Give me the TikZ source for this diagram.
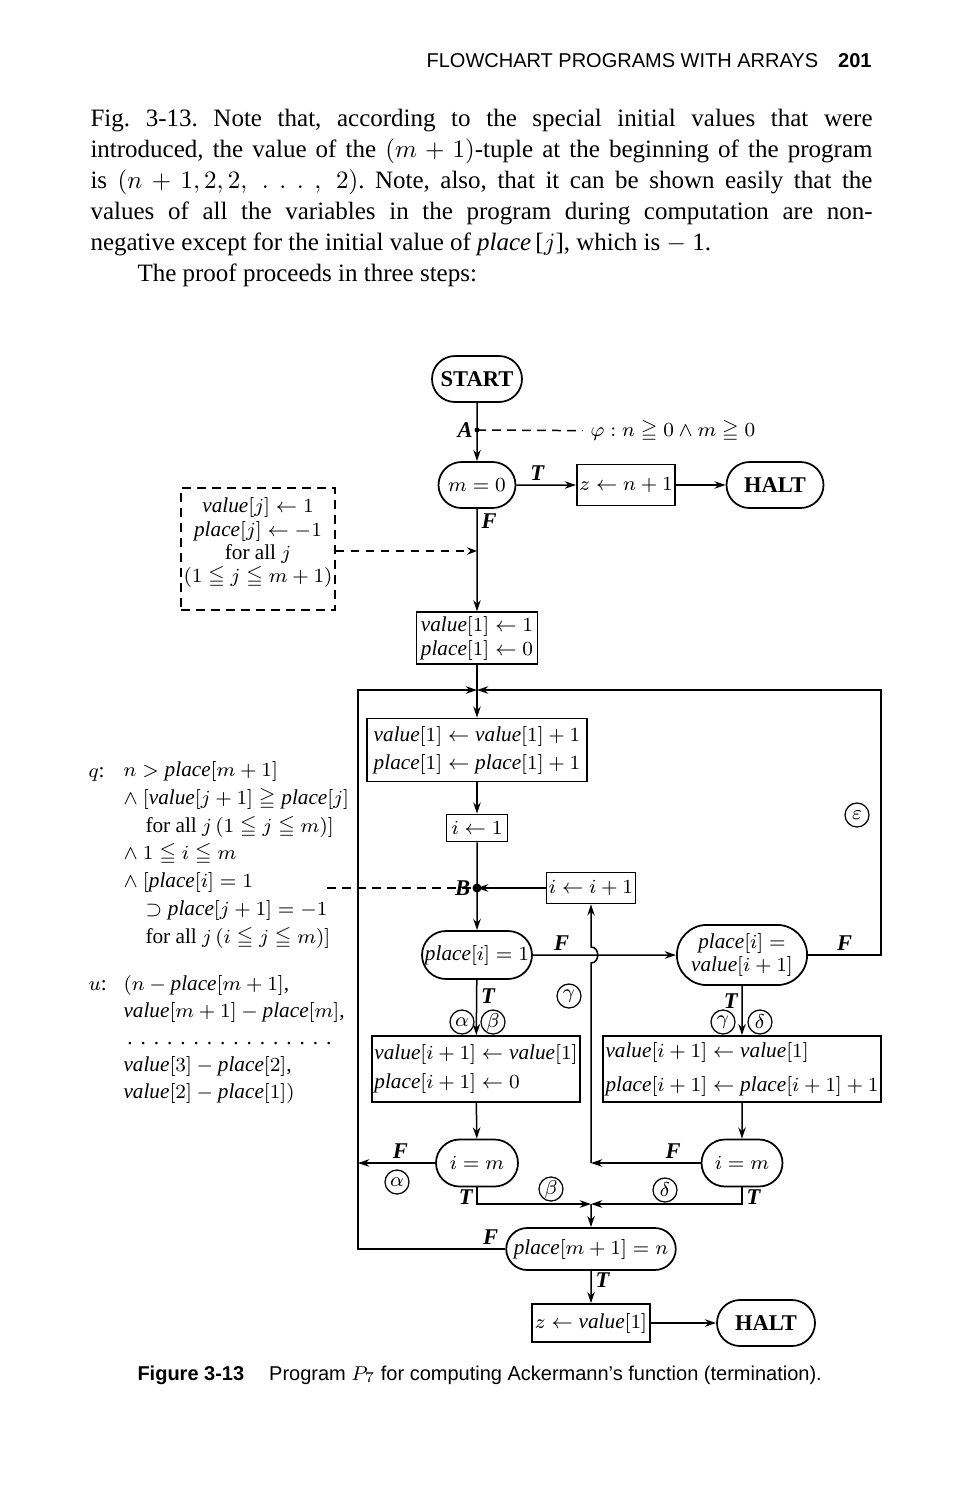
\documentclass[tikz,border=0pt]{standalone}
\usepackage{amsmath, amssymb}
\usepackage{fontspec}
\setmainfont{Liberation Serif}
\setsansfont{Liberation Sans}
\usepackage{tikz}
\usetikzlibrary{shapes.misc, arrows.meta, positioning, calc}

\newcommand{\valu}{\mathit{value}}
\newcommand{\plac}{\mathit{place}}
\newcommand{\rowdots}{\hbox to 85pt{\leaders\hbox to 5.3pt{\hss.\hss}\hfill}}

\begin{document}
\begin{tikzpicture}[x=0.4pt, y=-0.4pt,
    term/.style={draw, line width=0.7pt, shape=rounded rectangle, minimum height=18.4pt, inner xsep=2pt, font=\fontsize{8.5}{11}\selectfont},
    assign/.style={draw, line width=0.7pt, rectangle, inner xsep=1pt, inner ysep=1.5pt, align=left, font=\fontsize{8.5}{11.2}\selectfont},
    arrow/.style={-{Stealth[length=4.5pt, width=3pt]}, line width=0.6pt},
    dashline/.style={line width=0.6pt, dash pattern=on 3.5pt off 2.5pt},
    tag/.style={draw, circle, line width=0.5pt, inner sep=0pt, minimum size=9.6pt, font=\fontsize{8}{9}\selectfont},
    lab/.style={font=\fontsize{9}{10}\selectfont\bfseries\itshape, inner sep=1.5pt},
    note/.style={font=\fontsize{8.5}{11.1}\selectfont, inner sep=0pt, anchor=base west, align=left},
  ]
\useasboundingbox (0,0) rectangle (958,1500);

% Page text
\node[anchor=base east, inner sep=0pt, font=\sffamily\fontsize{8}{9}\selectfont] (head) at (872,67)
  {FLOWCHART PROGRAMS WITH ARRAYS\hspace{8pt}\textbf{201}};
\node[anchor=north west, inner sep=0pt, text width=312.8pt, align=justify, font=\fontsize{10}{12.4}\selectfont] (para) at (90,109)
  {\frenchspacing\noindent Fig. 3-13. Note that, according to the special initial values that were\linebreak
   introduced, the value of the $(m + 1)$-tuple at the beginning of the program\linebreak
   is $(n + 1, 2, 2,\ .\ .\ .\ ,\ 2)$. Note, also, that it can be shown easily that the\linebreak
   values of all the variables in the program during computation are non-\linebreak
   negative except for the initial value of \textit{place}\,[$j$], which is $-$ 1.\par
   \hspace*{18.8pt}The proof proceeds in three steps:};

% Nodes
\node[term, minimum width=40pt, font=\fontsize{9}{11}\selectfont\bfseries] (start) at (477,379) {START};
\node[term, minimum width=34.8pt] (mzero) at (477,485) {$m = 0$};
\node[assign, minimum width=39.2pt, minimum height=16.4pt] (zset) at (626,485) {$z \leftarrow n + 1$};
\node[term, minimum width=42.8pt, font=\fontsize{9}{11}\selectfont\bfseries] (halt1) at (775,485) {HALT};

\node[draw, dashline, align=center, minimum width=57.6pt, minimum height=48.8pt, inner sep=1pt, font=\fontsize{8.5}{9.3}\selectfont] (init) at (258,549)
  {$\valu[j] \leftarrow 1$\\ $\plac[j] \leftarrow -1$\\ for all $j$\\ $(1 \leqq j \leqq m + 1)$\rule[-7pt]{0pt}{0pt}};

\node[assign, minimum width=48.4pt, minimum height=19.6pt, font=\fontsize{8.5}{9.6}\selectfont] (initone) at (477,638)
  {$\valu[1] \leftarrow 1$\\ $\plac[1] \leftarrow 0$};
\node[assign, minimum width=88pt, minimum height=25.2pt] (incr) at (477,750)
  {$\valu[1] \leftarrow \valu[1] + 1$\\ $\plac[1] \leftarrow \plac[1] + 1$};
\node[assign, minimum width=24.4pt, minimum height=10.8pt] (ione) at (477,828) {$i \leftarrow 1$};
\node[assign, minimum width=34.8pt, minimum height=12.4pt] (iinc) at (591,888) {$i \leftarrow i + 1$};

\node[term, minimum width=48pt, minimum height=19.2pt] (testone) at (477,955) {$\plac[i] = 1$};
\node[term, minimum width=48.8pt, minimum height=19.2pt, align=center, font=\fontsize{8.5}{9.4}\selectfont] (testval) at (742,955)
  {$\plac[i] =$\\ $\valu[i + 1]$};

\node[assign, minimum width=82.8pt, minimum height=26.4pt, font=\fontsize{8.5}{11.6}\selectfont] (boxl) at (476,1069)
  {$\valu[i + 1] \leftarrow \valu[1]$\\ $\plac[i + 1] \leftarrow 0$};
\node[assign, minimum width=111.2pt, minimum height=26.4pt, font=\fontsize{8.5}{13.6}\selectfont] (boxr) at (742,1069)
  {$\valu[i + 1] \leftarrow \valu[1]$\\ $\plac[i + 1] \leftarrow \plac[i + 1] + 1$};

\node[term, minimum width=36.8pt, minimum height=18.8pt] (iml) at (477,1163) {$i = m$};
\node[term, minimum width=36.4pt, minimum height=18.8pt] (imr) at (742,1163) {$i = m$};
\node[term, minimum width=63.2pt, minimum height=16.8pt] (testn) at (591,1249) {$\plac[m + 1] = n$};
\node[assign, minimum width=47.2pt, minimum height=15.2pt] (zval) at (591,1323) {$z \leftarrow \valu[1]$};
\node[term, minimum width=43.2pt, font=\fontsize{9}{11}\selectfont\bfseries] (halt2) at (766,1323) {HALT};

% Tags
\node[tag] (tagE) at (857,815) {$\varepsilon$};
\node[tag] (tagG1) at (569,996) {$\gamma$};
\node[tag] (tagA1) at (462,1022) {$\alpha$};
\node[tag] (tagB1) at (493,1022) {$\beta$};
\node[tag] (tagG2) at (723,1022) {$\gamma$};
\node[tag] (tagD1) at (760,1022) {$\delta$};
\node[tag] (tagA2) at (397,1182) {$\alpha$};
\node[tag] (tagB2) at (551,1189) {$\beta$};
\node[tag] (tagD2) at (665,1190) {$\delta$};

% Assertions (multi-line notes sit on their last line)
\node[note] (phi) at (590,436) {$\varphi : n \geqq 0 \land m \geqq 0$};
\node[note] (qlab) at (88,777) {$q$:};
\node[note] (qtext) at (123,943)
  {$n > \plac[m + 1]$\\
   $\land\ [\valu[j + 1] \geqq \plac[j]$\\
   \hspace*{8.8pt}for all $j\,(1 \leqq j \leqq m)]$\\
   $\land\ 1 \leqq i \leqq m$\\
   $\land\ [\plac[i] = 1$\\
   \hspace*{8.8pt}$\supset \plac[j + 1] = -1$\\
   \hspace*{8.8pt}for all $j\,(i \leqq j \leqq m)]$};
\node[note] (ulab) at (88,990) {$u$:};
\node[note, font=\fontsize{8.5}{10.8}\selectfont] (utext) at (123,1098)
  {$(n - \plac[m + 1]$,\\
   $\valu[m + 1] - \plac[m]$,\\
   \rowdots\\
   $\valu[3] - \plac[2]$,\\
   $\valu[2] - \plac[1])$};

% Points
\coordinate (A) at (477,430);
\coordinate (B) at (477,888);
\coordinate (jinit) at (477,551);
\coordinate (top) at (477,690);
\coordinate (qend) at (327,888);
\coordinate (wallNE) at (881,690);
\coordinate (wallE) at (881,955);
\coordinate (wallNW) at (358,690);
\coordinate (wallW) at (358,1249);
\coordinate (wallA) at (358,1163);
\coordinate (cornerR) at (591,1163);
\coordinate (merge) at (591,1204);

% Arrows
\draw[arrow] (start) -- (mzero);
\fill (A) circle (1pt);
\node[lab, left] at (A) {A};
\draw[dashline, shorten >=3pt] (A) -- (phi.west);
\draw[arrow] (mzero) -- node[lab, above, pos=0.35] {T} (zset);
\draw[arrow] (zset) -- (halt1);
\draw[arrow] (mzero) -- node[lab, right, pos=0.12] {F} (initone);
\draw[dashline, -{Stealth[length=4pt, width=3pt]}] (init.east |- jinit) -- (jinit);

\draw[arrow] (initone) -- (incr);
\draw[arrow] (incr) -- (ione);
\draw[arrow] (ione) -- (testone);
\fill (B) circle (1.8pt);
\node[lab, left=1pt] at (B) {B};
\draw[dashline] (qend) -- (B);
\draw[arrow] (iinc) -- (B);

\draw[arrow] (testone) -- node[lab, above, pos=0.2] {F} (testval);
\draw[arrow] (testval.east) -- node[lab, above] {F} (wallE) -- (wallNE) -- (top);
\draw[arrow] (testone) -- node[lab, right, pos=0.3] {T} (boxl);
\draw[arrow] (testval) -- node[lab, left, pos=0.3] {T} (boxr);
\draw[arrow] (boxl) -- (iml);
\draw[arrow] (boxr) -- (imr);

\draw[arrow] (iml.west) -- node[lab, above, pos=0.45] {F} (wallA);
\draw[arrow] (iml.south) |- node[lab, left, pos=0.3] {T} (merge);
\draw[arrow] (imr.west) -- node[lab, above, pos=0.25] {F} (cornerR);
\draw[arrow] (imr.south) |- node[lab, right, pos=0.3] {T} (merge);
\draw[arrow] (cornerR) -- (591,963) .. controls (600,963) and (600,947) .. (591,947) -- (iinc);

\draw[arrow] (merge) -- (testn);
\draw[arrow] (testn.west) -- node[lab, above, pos=0.1] {F} (wallW) -- (wallNW) -- (top);
\draw[arrow] (testn) -- node[lab, right, pos=0.3] {T} (zval);
\draw[arrow] (zval) -- (halt2);

% Caption
\node[anchor=base west, inner sep=0pt, font=\sffamily\fontsize{8}{9}\selectfont] (cap) at (137,1380)
  {\textbf{Figure 3-13}\hspace{10pt}Program $P_7$ for computing Ackermann’s function (termination).};
\end{tikzpicture}
\end{document}
